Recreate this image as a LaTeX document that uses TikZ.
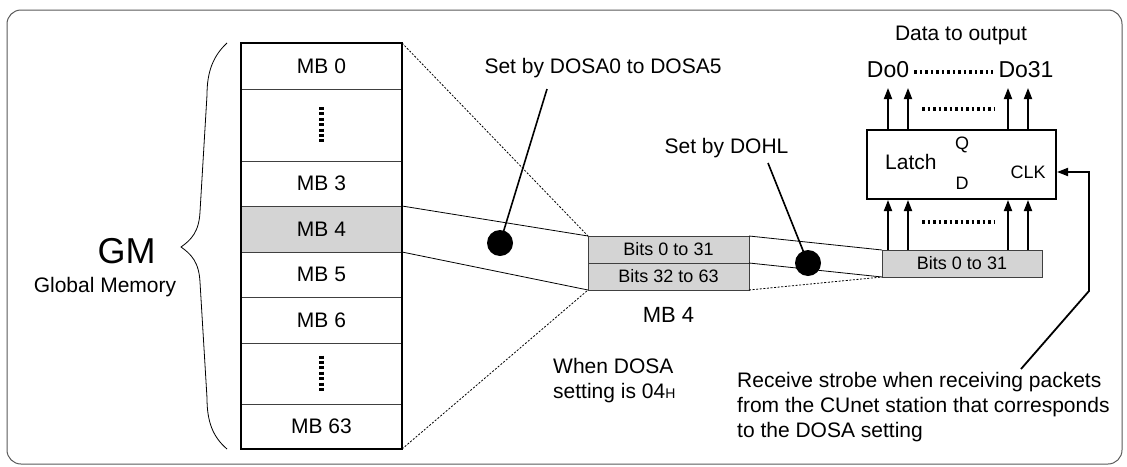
\documentclass[tikz,border=0pt]{standalone}
\usepackage{fontspec}
\setmainfont{Liberation Sans}
\usetikzlibrary{arrows.meta,positioning,calc}

\tikzset{
  mbrow/.style={draw=black!75, line width=0.8pt, minimum width=161pt, inner sep=0pt, outer sep=0pt,
    font=\fontsize{21}{25}\selectfont},
  bits/.style={draw=black!75, fill=black!17, line width=0.8pt, minimum width=161pt, minimum height=27pt,
    inner sep=0pt, outer sep=0pt, font=\fontsize{18}{20}\selectfont},
  txt/.style={inner sep=0pt, font=\fontsize{21}{25}\selectfont},
  small/.style={inner sep=0pt, font=\fontsize{18}{20}\selectfont},
  vdots/.style={line width=5pt, dash pattern=on 3pt off 2.4pt},
  hdots/.style={line width=4pt, dash pattern=on 2.5pt off 3pt},
  sig/.style={line width=1.8pt, -{Triangle[length=11pt,width=8pt]}},
  leader/.style={line width=1.6pt},
  blob/.style={circle, fill, inner sep=0pt, minimum size=26pt},
  thin dots/.style={line width=0.8pt, dash pattern=on 2pt off 1.6pt},
}

\begin{document}
\begin{tikzpicture}[x=1pt, y=-1pt]
  \useasboundingbox (0,0) rectangle (1127,466);
  \draw[black!65, line width=1pt, rounded corners=14pt] (7,10) rectangle (1122,464);

  % global memory blocks
  \node[mbrow, minimum height=46pt, anchor=north] (mb0) at (321.5,43) {MB 0};
  \node[mbrow, minimum height=72pt, below=0pt of mb0] (gap1) {};
  \node[mbrow, minimum height=45pt, below=0pt of gap1] (mb3) {MB 3};
  \node[mbrow, minimum height=46pt, fill=black!17, below=0pt of mb3] (mb4) {MB 4};
  \node[mbrow, minimum height=45pt, below=0pt of mb4] (mb5) {MB 5};
  \node[mbrow, minimum height=46pt, below=0pt of mb5] (mb6) {MB 6};
  \node[mbrow, minimum height=61pt, below=0pt of mb6] (gap2) {};
  \node[mbrow, minimum height=45pt, below=0pt of gap2] (mb63) {MB 63};
  \draw[line width=2.2pt] (mb0.north west) rectangle (mb63.south east);
  \draw[vdots] ($(gap1.center)+(0,-18)$) -- ($(gap1.center)+(0,18)$);
  \draw[vdots] ($(gap2.center)+(0,-18)$) -- ($(gap2.center)+(0,18)$);

  % brace
  \draw[line width=0.8pt] (227,43) .. controls (213,56) and (207,72) .. (207,95)
    -- (200,212) .. controls (199,232) and (191,240) .. (181,247)
    .. controls (191,254) and (199,262) .. (200,282)
    -- (207,398) .. controls (207,422) and (213,437) .. (227,449);
  \node[inner sep=0pt, anchor=base, font=\fontsize{36}{40}\selectfont] (gm) at (126.5,263) {GM};
  \node[txt, anchor=base] (gmtxt) at (105,292) {Global Memory};

  % MB 4 contents
  \node[bits] (bitslo) at (668.5,249.5) {Bits 0 to 31};
  \node[bits, below=0pt of bitslo] (bitshi) {Bits 32 to 63};
  \node[inner sep=0pt, font=\fontsize{22}{26}\selectfont, below=17pt of bitshi] (mb4cap) {MB 4};
  \draw[line width=0.8pt] (mb4.north east) -- (bitslo.north west);
  \draw[line width=0.8pt] (mb4.south east) -- (bitshi.south west);
  \draw[thin dots] (mb0.north east) -- (bitslo.north west);
  \draw[thin dots] (mb63.south east) -- (bitshi.south west);
  \node[txt, align=left, anchor=west] (dosatxt) at (553,381) {When DOSA\\setting is 04{\fontsize{14}{14}\selectfont H}};

  % selection marks
  \node[blob] (dota) at (500,243) {};
  \node[txt] (seta) at (603,68) {Set by DOSA0 to DOSA5};
  \coordinate (seta tail) at (547,89);
  \draw[leader] (seta tail) -- (dota.center);

  % output bits and latch
  \node[bits, minimum width=160pt] (outbits) at (962,263.5) {Bits 0 to 31};
  \draw[line width=0.8pt] (bitslo.north east) -- (outbits.north west);
  \draw[line width=0.8pt] (bitslo.south east) -- (outbits.south west);
  \draw[thin dots] (bitshi.south east) -- (outbits.south west);
  \node[blob] (dotb) at (808,263) {};
  \node[txt] (setb) at (726.5,148) {Set by DOHL};
  \coordinate (setb tail) at (768,163);
  \draw[leader] (setb tail) -- (dotb.center);

  \node[draw, line width=2pt, minimum width=189pt, minimum height=69pt] (latch) at (961.5,164.5) {};
  \node[txt, anchor=west] (latchlbl) at (885,162) {Latch};
  \node[small] (q) at (962,145) {Q};
  \node[small] (d) at (962,183) {D};
  \node[small] (clk) at (1028,172) {CLK};
  \foreach \x in {888,908,1008,1028} {
    \draw[sig] (\x,0 |- latch.north) -- (\x,88);
    \draw[sig] (\x,0 |- outbits.north) -- (\x,0 |- latch.south);
  }
  \draw[hdots] (922,109) -- (995,109);
  \draw[hdots] (922,222) -- (995,222);

  \node[inner sep=0pt, font=\fontsize{23}{26}\selectfont] (do0) at (888,70) {Do0};
  \node[inner sep=0pt, font=\fontsize{23}{26}\selectfont] (do31) at (1026,70) {Do31};
  \draw[hdots] ($(do0.east)+(5,2)$) -- ($(do31.west)+(-5,2)$);
  \node[txt] (datatxt) at (961,35) {Data to output};

  % receive strobe
  \node[txt, align=left, anchor=west] (strobetxt) at (737,407)
    {Receive strobe when receiving packets\\from the CUnet station that corresponds\\to the DOSA setting};
  \coordinate (strobe) at (1021,369);
  \draw[sig] (strobe) -- (1089,291) -- (1089,172) -- (latch.east |- 0,172);
\end{tikzpicture}
\end{document}
